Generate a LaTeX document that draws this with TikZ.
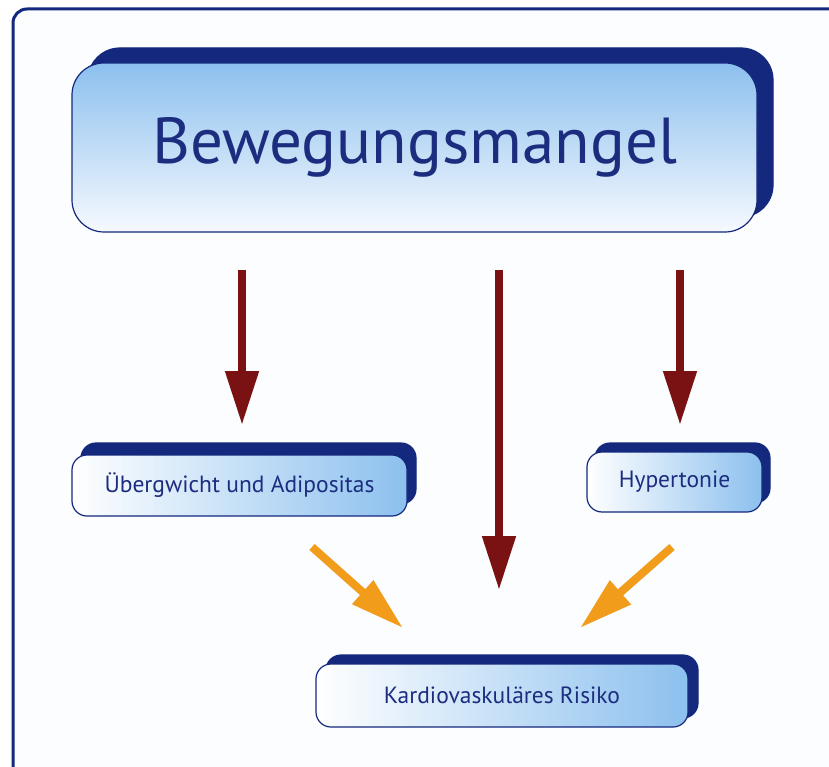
\documentclass[tikz,border=0pt]{standalone}
\usepackage{fontspec}
\setmainfont{PT Sans}
\usetikzlibrary{arrows.meta,shadows}
\definecolor{navy}{RGB}{20,40,125}
\definecolor{txtnavy}{RGB}{28,45,128}
\definecolor{lblue}{RGB}{140,192,238}
\definecolor{pale}{RGB}{246,249,254}
\definecolor{darkred}{RGB}{122,18,20}
\definecolor{orange}{RGB}{242,156,28}
\tikzset{
  bigbox/.style={draw=navy, line width=1.2pt, rounded corners=32pt,
    top color=lblue, bottom color=pale, text=txtnavy,
    inner sep=0pt, font=\fontsize{65}{68}\selectfont,
    copy shadow={shadow xshift=16pt, shadow yshift=15pt, fill=navy, draw=navy}},
  smallbox/.style={draw=navy, line width=1.2pt, rounded corners=15pt,
    left color=white, right color=lblue, text=txtnavy,
    inner sep=0pt, font=\fontsize{23.5}{26}\selectfont},
  redarrow/.style={draw=darkred, line width=8pt, -{Triangle[width=32pt,length=54pt]}},
  orangearrow/.style={draw=orange, line width=8pt, -{Triangle[width=30pt,length=54pt]}}
}
\begin{document}
\begin{tikzpicture}[x=1pt,y=-1pt]
\useasboundingbox (0,0) rectangle (829,767);
\clip (0,0) rectangle (829,767);
\fill[white] (0,0) rectangle (829,767);
\draw[navy, line width=3pt, rounded corners=14pt, fill=pale!40!white] (880,9) -- (13,9) -- (13,820) -- (880,820) -- cycle;

\node[bigbox, minimum width=685pt, minimum height=169pt] (big) at (414.5,147.5) {Bewegungsmangel};
\node[smallbox, minimum width=335pt, minimum height=61pt,
  copy shadow={shadow xshift=9pt, shadow yshift=12pt, fill=navy, draw=navy}] (uebg) at (239.5,485.5) {Übergwicht und Adipositas};
\node[smallbox, minimum width=175pt, minimum height=60pt,
  copy shadow={shadow xshift=8pt, shadow yshift=9pt, fill=navy, draw=navy}] (hyp) at (674.5,482) {Hypertonie};
\node[smallbox, minimum width=372pt, minimum height=63pt,
  copy shadow={shadow xshift=10pt, shadow yshift=9pt, fill=navy, draw=navy}] (kard) at (502,695.5) {Kardiovaskuläres Risiko};

\coordinate (a1s) at (242,270);
\coordinate (a1e) at (242,425);
\coordinate (a2s) at (499,270);
\coordinate (a2e) at (499,590);
\coordinate (a3s) at (680,270);
\coordinate (a3e) at (680,425);
\coordinate (o1s) at (312,547);
\coordinate (o1e) at (403,628);
\coordinate (o2s) at (672,547);
\coordinate (o2e) at (580,628);

\draw[redarrow] (a1s) -- (a1e);
\draw[redarrow] (a2s) -- (a2e);
\draw[redarrow] (a3s) -- (a3e);
\draw[orangearrow] (o1s) -- (o1e);
\draw[orangearrow] (o2s) -- (o2e);
\end{tikzpicture}
\end{document}
